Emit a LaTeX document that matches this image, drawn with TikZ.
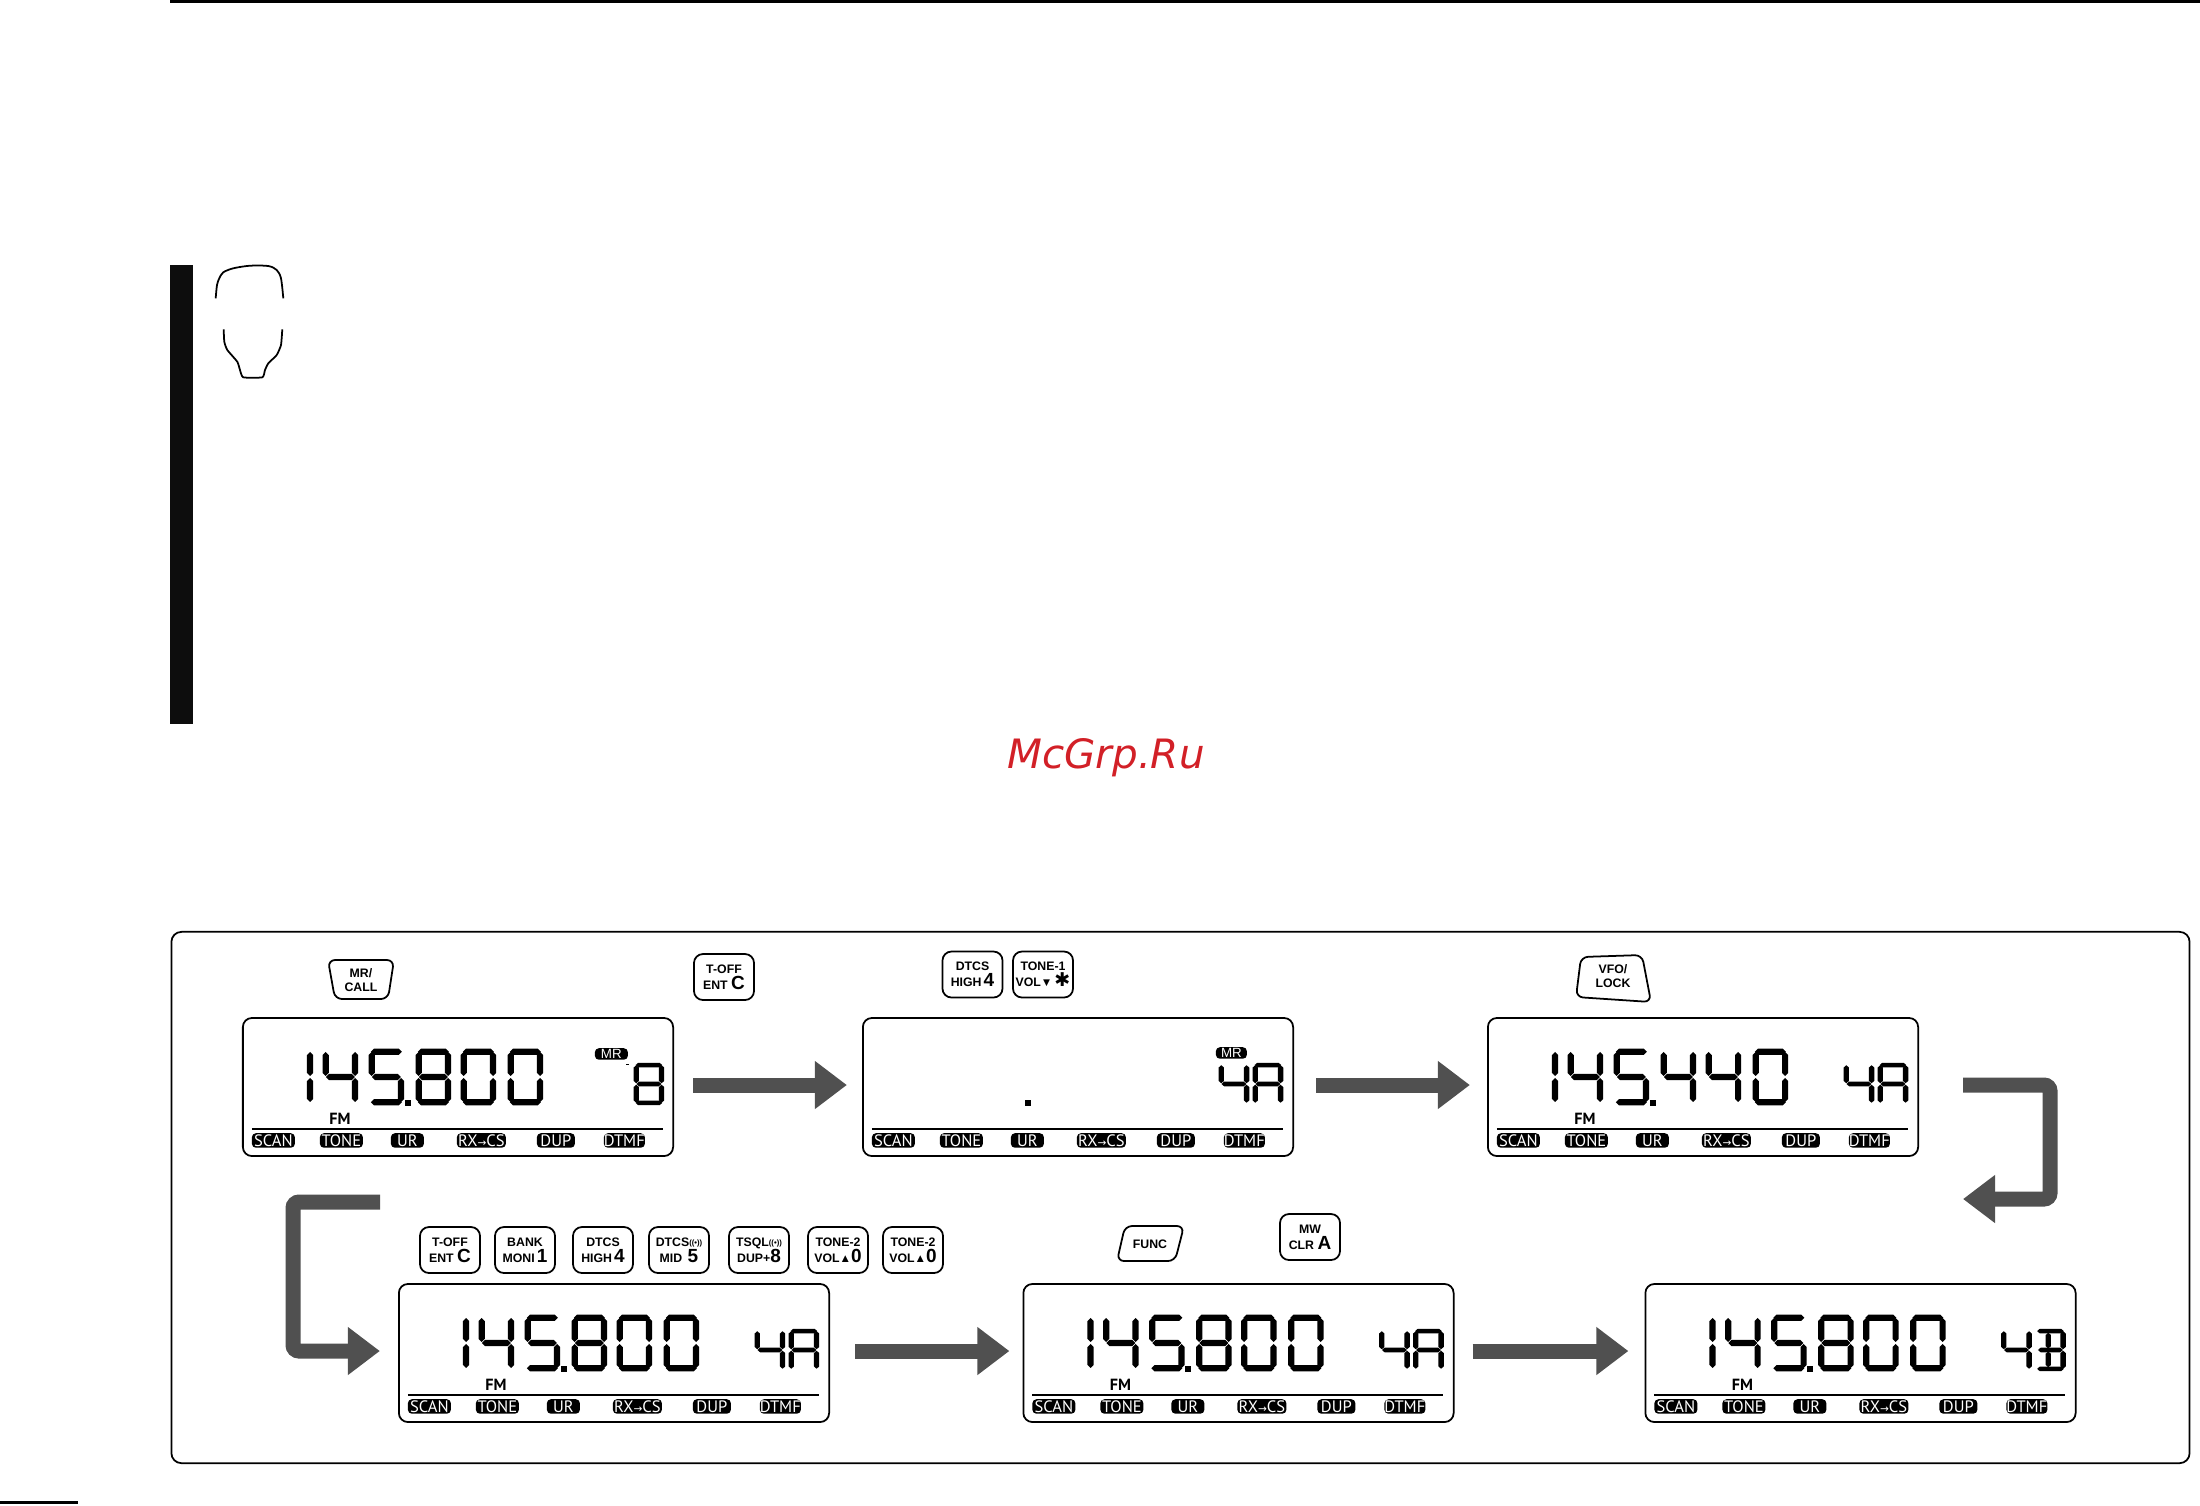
\documentclass[tikz,border=0pt]{standalone}
\usepackage{fontspec}
\setmainfont{Liberation Sans}
\newfontfamily\lcdfont{PT Sans}
\newfontfamily\symfont{DejaVu Sans}
\usetikzlibrary{arrows.meta}

\definecolor{arrowgray}{HTML}{505050}
\definecolor{markred}{HTML}{D22027}

\tikzset{
  hairline/.style={line width=0.5pt},
  panelbox/.style={draw,hairline,rounded corners=0.09cm,minimum width=4.30cm,minimum height=1.38cm,inner sep=0,outer sep=0},
  keybtn/.style={draw,hairline,rounded corners=0.09cm,minimum width=0.6cm,minimum height=0.46cm,inner sep=0,align=center,
    font=\fontsize{3.5}{4.6}\selectfont\bfseries},
  keytext/.style={inner sep=0,align=center,font=\fontsize{3.5}{4.1}\selectfont\bfseries},
  keyline/.style={draw,hairline,rounded corners=0.07cm},
  lcdtag/.style={fill=black,text=white,rounded corners=0.04cm,minimum height=0.145cm,inner sep=0,font=\lcdfont\fontsize{4.7}{5}\selectfont},
  fmtext/.style={inner sep=0,font=\lcdfont\bfseries\fontsize{4.6}{5}\selectfont},
  bigarrow/.style={draw=arrowgray,line width=0.15cm,-{Triangle[length=0.32cm,width=0.46cm]}},
  bigdigit/.style={},
  smalldigit/.style={xscale=0.86,yscale=0.75},
}

\newcommand{\keybig}[1]{{\fontsize{5.4}{4.6}\selectfont #1}}
\newcommand{\sigmark}{\raisebox{0.3pt}{\fontsize{2.2}{3}\selectfont((•))}}
\newcommand{\volmark}[1]{{\fontsize{3.3}{3}\selectfont #1}}

\newcommand{\lcdh}[3]{\fill (#1,#3) -- ++(3.1,-3.1) -- (#2-3.1,#3-3.1) -- (#2,#3) -- (#2-3.1,#3+3.1) -- (#1+3.1,#3+3.1) -- cycle;}
\newcommand{\lcdv}[3]{\fill (#1,#2) -- ++(3.1,3.1) -- (#1+3.1,#3-3.1) -- (#1,#3) -- (#1-3.1,#3-3.1) -- (#1-3.1,#2+3.1) -- cycle;}
\newcommand{\sega}{\lcdh{2}{33}{2.8}}
\newcommand{\segb}{\lcdv{32.2}{3}{27}}
\newcommand{\segc}{\lcdv{32.2}{29}{53}}
\newcommand{\segd}{\lcdh{2}{33}{53.2}}
\newcommand{\sege}{\lcdv{2.8}{29}{53}}
\newcommand{\segf}{\lcdv{2.8}{3}{27}}
\newcommand{\segg}{\lcdh{3}{32}{28}}
\newcommand{\segh}{\lcdv{15}{5}{26}}
\newcommand{\segi}{\lcdv{15}{30}{51}}
\newcommand{\done}{b,c}
\newcommand{\dfour}{f,g,b,c}
\newcommand{\dfive}{a,f,g,c,d}
\newcommand{\deight}{a,b,c,d,e,f,g}
\newcommand{\dzero}{a,b,c,d,e,f}
\newcommand{\dlettera}{a,b,c,e,f,g}
\newcommand{\dletterb}{a,b,c,d,g,h,i}

\newcommand{\lcddigit}[3]{%
  \begin{scope}[shift={(#1)},#2]
    \foreach \s in #3 {\csname seg\s\endcsname}
  \end{scope}}

\newcommand{\lcdtags}[1]{%
  \begin{scope}[shift={(#1.north west)}]
    \draw[line width=0.45pt] (9,111) -- (420,111);
    \foreach \nm/\cx/\tw/\lab in {scan/30.5/43/SCAN,tone/98.5/43/TONE,ur/164.5/33/UR,rx/238.5/49/{RX{\symfont\fontsize{3}{4}\selectfont→}CS},dup/313/38/DUP,dtmf/381.5/41/DTMF}
      \node[lcdtag,minimum width=\tw*0.01cm] (#1-\nm) at (\cx,122.5) {\lab};
  \end{scope}}

\newcommand{\lcdmain}[4]{%
  \begin{scope}[shift={(#1.north west)}]
    \lcddigit{35,31}{bigdigit}{\done}
    \lcddigit{80,31}{bigdigit}{\dfour}
    \lcddigit{126,31}{bigdigit}{\dfive}
    \fill (162,82) rectangle (168,88);
    \lcddigit{173,31}{bigdigit}{#2}
    \lcddigit{218,31}{bigdigit}{#3}
    \lcddigit{265,31}{bigdigit}{#4}
    \node[fmtext] (#1-fm) at (97,101) {FM};
  \end{scope}}

\newcommand{\lcdchan}[3]{%
  \begin{scope}[shift={(#1.north west)}]
    \lcddigit{356,45}{smalldigit}{#2}
    \lcddigit{390,45}{smalldigit}{#3}
  \end{scope}}

\begin{document}
\begin{tikzpicture}[x=0.01cm,y=-0.01cm]
  \useasboundingbox (0,0) rectangle (2200,1505);

  \fill (170,0) rectangle (2200,3);
  \fill (0,1501) rectangle (78,1504);
  \fill[black!95] (170,265) rectangle (193,724);

  \draw[hairline] plot[smooth,tension=0.5] coordinates {(215.7,298.3) (217,285) (219.3,278.3) (223.3,272.3) (233.3,268.3) (250,265.7) (268.3,266) (276.7,270) (281,278.3) (283.3,298.3)};
  \draw[hairline] plot[smooth,tension=0.3] coordinates {(223.7,329.3) (224.3,341.7) (227.3,350) (237.3,361.7) (240,370) (243.3,377.3) (262.3,377.3) (265,370) (268.3,363.3) (276.7,355) (281,345) (282.3,329.3)};

  \node[inner sep=0,text=markred,font=\symfont\itshape\fontsize{11.5}{12}\selectfont] (mark) at (1106,758) {McGrp.Ru};

  \node[draw,hairline,rounded corners=0.1cm,minimum width=20.17cm,minimum height=5.31cm,inner sep=0,outer sep=0] (frame) at (1180.5,1197.5) {};

  \node[panelbox] (D1) at (458,1087) {};
  \node[panelbox] (D2) at (1078,1087) {};
  \node[panelbox] (D3) at (1703,1087) {};
  \node[panelbox] (D4) at (614,1353) {};
  \node[panelbox] (D5) at (1238.5,1353) {};
  \node[panelbox] (D6) at (1860.5,1353) {};

  \lcdtags{D1} \lcdtags{D2} \lcdtags{D3} \lcdtags{D4} \lcdtags{D5} \lcdtags{D6}
  \lcdmain{D1}{\deight}{\dzero}{\dzero}
  \lcdmain{D3}{\dfour}{\dfour}{\dzero}
  \lcdmain{D4}{\deight}{\dzero}{\dzero}
  \lcdmain{D5}{\deight}{\dzero}{\dzero}
  \lcdmain{D6}{\deight}{\dzero}{\dzero}
  \lcdchan{D2}{\dfour}{\dlettera}
  \lcdchan{D3}{\dfour}{\dlettera}
  \lcdchan{D4}{\dfour}{\dlettera}
  \lcdchan{D5}{\dfour}{\dlettera}
  \lcdchan{D6}{\dfour}{\dletterb}

  \begin{scope}[shift={(D1.north west)}]
    \lcddigit{391,45}{smalldigit}{\deight}
    \fill (383,46) rectangle (386,47.5);
    \node[lcdtag,minimum width=0.33cm,minimum height=0.115cm,font=\fontsize{3.8}{4}\selectfont] (D1-mr) at (368.5,36) {MR};
  \end{scope}
  \begin{scope}[shift={(D2.north west)}]
    \fill (162,82) rectangle (168,88);
    \node[lcdtag,minimum width=0.31cm,minimum height=0.115cm,font=\fontsize{3.8}{4}\selectfont] (D2-mr) at (368.5,35) {MR};
  \end{scope}

  \node[keybtn] (K2) at (724,977) {T-OFF\\ENT \keybig{C}};
  \node[keybtn] (K3) at (972.5,974.5) {DTCS\\HIGH\,\keybig{4}};
  \node[keybtn] (K4) at (1043,974.5) {TONE-1\\VOL\volmark{▼}\,\keybig{{\symfont ✱}}};
  \node[keybtn] (K5) at (450,1250) {T-OFF\\ENT \keybig{C}};
  \node[keybtn] (K6) at (525,1250) {BANK\\MONI\,\keybig{1}};
  \node[keybtn] (K7) at (603,1250) {DTCS\\HIGH\,\keybig{4}};
  \node[keybtn] (K8) at (679,1250) {DTCS\sigmark\\MID\, \keybig{5}};
  \node[keybtn] (K9) at (759,1250) {TSQL\sigmark\\DUP+\keybig{8}};
  \node[keybtn] (K10) at (838,1250) {TONE-2\\VOL\volmark{▲}\keybig{0}};
  \node[keybtn] (K11) at (913,1250) {TONE-2\\VOL\volmark{▲}\keybig{0}};
  \node[keybtn] (K13) at (1310,1237) {MW\\CLR \keybig{A}};

  \draw[keyline] (328,960) -- (394,960) -- (388,999) -- (335,999) -- cycle;
  \node[keytext] (K1) at (361,980) {MR/\\CALL};
  \draw[keyline] (1581,957) -- (1642,955) -- (1651,1002) -- (1576,997) -- cycle;
  \node[keytext] (K14) at (1613,976) {VFO/\\LOCK};
  \draw[keyline] (1125,1226) -- (1184,1226) -- (1175,1261) -- (1117,1261) -- cycle;
  \node[keytext] (K12) at (1150,1244) {FUNC};

  \coordinate (R1a) at (1963,1085);
  \coordinate (R1b) at (1963,1199);
  \coordinate (R2a) at (380,1202);

  \draw[bigarrow] ([yshift=0.02cm,xshift=0.2cm]D1.east) -- ([yshift=0.02cm,xshift=-0.16cm]D2.west);
  \draw[bigarrow] ([yshift=0.02cm,xshift=0.23cm]D2.east) -- ([yshift=0.02cm,xshift=-0.18cm]D3.west);
  \draw[bigarrow] ([yshift=0.02cm,xshift=0.26cm]D4.east) -- ([yshift=0.02cm,xshift=-0.14cm]D5.west);
  \draw[bigarrow] ([yshift=0.02cm,xshift=0.19cm]D5.east) -- ([yshift=0.02cm,xshift=-0.17cm]D6.west);
  \draw[bigarrow,rounded corners=0.06cm] (R1a) -- (2050,1085) -- (2050,1199) -- (R1b);
  \draw[bigarrow,rounded corners=0.06cm] (R2a) -- (293,1202) -- (293,1351) -- ([xshift=-0.19cm,yshift=0.02cm]D4.west);
\end{tikzpicture}
\end{document}
